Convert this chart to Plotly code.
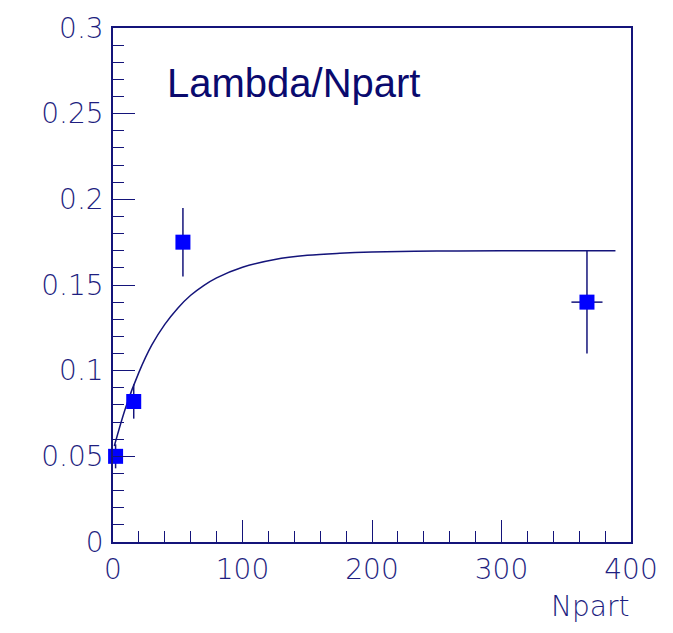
import plotly.graph_objects as go

# Data points
npart = [2, 16, 54, 366]
ratio = [0.050, 0.082, 0.175, 0.140]
ratio_err = [0.007, 0.010, 0.020, 0.030]
npart_err = [0, 0, 0, 12]

# Fit curve
curve_x = [1, 10, 20, 30, 40, 50, 60, 70, 80, 100, 125, 150, 175, 200, 250, 300, 388]
curve_y = [0.056, 0.079, 0.099, 0.115, 0.127, 0.1365, 0.144, 0.1497, 0.1542,
           0.1604, 0.1649, 0.1673, 0.1685, 0.1692, 0.1698, 0.170, 0.170]

x_ticks = [0, 100, 200, 300, 400]
y_ticks = [0, 0.05, 0.1, 0.15, 0.2, 0.25, 0.3]
y_tick_text = ["0", "0.05", "0.1", "0.15", "0.2", "0.25", "0.3"]

NAVY = "#14147a"
TICKFONT = dict(family="DejaVu Sans", size=28, color="#1e1e80", weight=200)

fig = go.Figure()
fig.add_trace(go.Scatter(
    x=curve_x, y=curve_y, mode="lines",
    line=dict(color=NAVY, width=1.5, shape="spline"),
    hoverinfo="skip", showlegend=False))
fig.add_trace(go.Scatter(
    x=npart, y=ratio, mode="markers",
    marker=dict(symbol="square", size=15, color="#0000ff", line=dict(width=0)),
    error_y=dict(type="data", array=ratio_err, color=NAVY, thickness=1.5, width=0),
    error_x=dict(type="data", array=npart_err, color=NAVY, thickness=1.5, width=0),
    cliponaxis=False, showlegend=False))

fig.update_xaxes(
    range=[0, 400], tickvals=x_ticks, ticks="inside", ticklen=22, tickwidth=1.3,
    tickcolor=NAVY, showline=True, linecolor=NAVY, linewidth=1.6, mirror=True,
    showgrid=False, zeroline=False, tickfont=TICKFONT, ticklabelstandoff=2,
    minor=dict(dtick=20, ticks="inside", ticklen=11, tickwidth=1.3, tickcolor=NAVY, showgrid=False))
fig.update_yaxes(
    range=[0, 0.3], tickvals=y_ticks, ticktext=y_tick_text, ticks="inside", ticklen=22,
    tickwidth=1.3, tickcolor=NAVY, showline=True, linecolor=NAVY, linewidth=1.6, mirror=True,
    showgrid=False, zeroline=False, tickfont=TICKFONT, ticklabelstandoff=2,
    minor=dict(dtick=0.01, ticks="inside", ticklen=11, tickwidth=1.3, tickcolor=NAVY, showgrid=False))

fig.add_annotation(text="Lambda/Npart", xref="paper", yref="paper", x=0.1, y=0.893,
                   xanchor="left", yanchor="middle", showarrow=False,
                   font=dict(family="Liberation Sans", size=40, color="#0a0a6e"))
fig.add_annotation(text="Npart", xref="paper", yref="paper", x=1.0, y=-0.125,
                   xanchor="right", yanchor="middle", showarrow=False,
                   font=TICKFONT)

fig.update_layout(
    width=673, height=633, margin=dict(l=113, r=42, t=23, b=91),
    plot_bgcolor="white", paper_bgcolor="white")

fig.write_html("out.html")
